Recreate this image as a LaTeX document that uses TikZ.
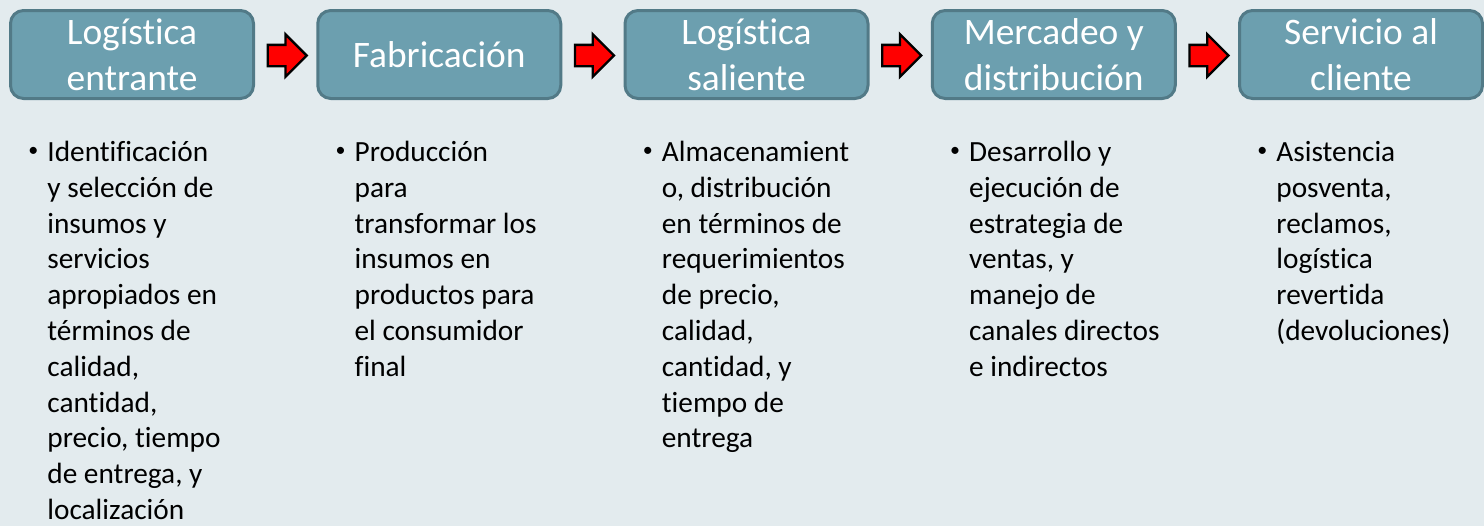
\documentclass[tikz,border=0pt]{standalone}
\usepackage{fontspec}
\setmainfont{Carlito}[Ligatures={NoCommon,NoContextual}]
\usepackage{tikz}
\usetikzlibrary{shapes.arrows}
\definecolor{fondo}{HTML}{E3EBEE}
\definecolor{azul}{HTML}{6C9FAF}
\definecolor{azulosc}{HTML}{527A87}
\newcommand{\vineta}[1]{\parbox[t]{200pt}{\fontsize{14.65pt}{17.9pt}\selectfont\parindent=0pt\leftskip=9.5pt\noindent\hspace*{-9.5pt}\makebox[9.5pt][l]{\raisebox{2.4pt}{\fontsize{10pt}{10pt}\selectfont\textbullet}}#1}}

\begin{document}
\begin{tikzpicture}[x=0.5pt, y=-0.5pt,
        etapa/.style={draw=azulosc, line width=1.5pt, fill=azul, rounded corners=6.5pt, minimum width=121.5pt, minimum height=44pt, text=white, align=center, font=\fontsize{18.7pt}{23pt}\selectfont},
        flecha/.style={single arrow, draw=black, line width=1.2pt, fill=red, minimum height=19.5pt, inner xsep=0pt, inner ysep=4.75pt, single arrow head extend=5.25pt, anchor=tail},
        texto/.style={anchor=base west, inner sep=0pt}]
        \fill[fondo](0, 0)rectangle(1484, 526);
        \useasboundingbox(0, 0)rectangle(1484, 526);
        \node[etapa](a)at(132, 54.5){Logística\\entrante};
        \node[etapa](b)at(439.25, 54.5){Fabricación};
        \node[etapa](c)at(746.5, 54.5){Logística\\saliente};
        \node[etapa](d)at(1053.75, 54.5){Mercadeo y\\distribución};
        \node[etapa](e)at(1361, 54.5){Servicio al\\cliente};
        \node[flecha](ab)at(266.5, 55.5){};
        \node[flecha](bc)at(573.75, 55.5){};
        \node[flecha](cd)at(881, 55.5){};
        \node[flecha](de)at(1188.25, 55.5){};
        \node[texto](ta)at(28, 161.5){\vineta{Identificación\\y selección de\\insumos y\\servicios\\apropiados en\\términos de\\calidad,\\cantidad,\\precio, tiempo\\de entrega, y\\localización}};
        \node[texto](tb)at(335.25, 161.5){\vineta{Producción\\para\\transformar los\\insumos en\\productos para\\el consumidor\\final}};
        \node[texto](tc)at(642.5, 161.5){\vineta{Almacenamient\\o, distribución\\en términos de\\requerimientos\\de precio,\\calidad,\\cantidad, y\\tiempo de\\entrega}};
        \node[texto](td)at(949.75, 161.5){\vineta{Desarrollo y\\ejecución de\\estrategia de\\ventas, y\\manejo de\\canales directos\\e indirectos}};
        \node[texto](te)at(1257, 161.5){\vineta{Asistencia\\posventa,\\reclamos,\\logística\\revertida\\(devoluciones)}};
    \end{tikzpicture}
\end{document}
